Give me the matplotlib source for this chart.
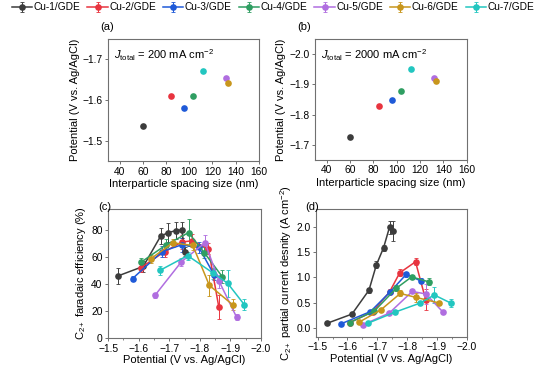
import matplotlib
matplotlib.use('Agg')
import matplotlib.pyplot as plt
from matplotlib.ticker import MultipleLocator

plt.rcParams['font.family'] = ['Liberation Sans', 'DejaVu Sans']
plt.rcParams['mathtext.fontset'] = 'custom'
plt.rcParams['mathtext.rm'] = 'Liberation Sans'
plt.rcParams['mathtext.it'] = 'Liberation Sans:italic'

labels = ['Cu-1/GDE', 'Cu-2/GDE', 'Cu-3/GDE', 'Cu-4/GDE', 'Cu-5/GDE', 'Cu-6/GDE', 'Cu-7/GDE']
colors = ['#3c3c3c', '#e8343f', '#1f5ad8', '#2f9e62', '#b06ee0', '#c8961c', '#22c6c0']

# interparticle spacing (nm) and potential at 200 / 2000 mA cm-2
spacing = [60, 84.5, 95.7, 103.4, 132, 133.7, 112]
E_200 = [-1.536, -1.609, -1.581, -1.609, -1.654, -1.642, -1.672]
E_2000 = [-1.727, -1.830, -1.849, -1.877, -1.923, -1.913, -1.950]

# potential, FE (%), FE err, partial current (A cm-2), err
cu1_E = [-1.533, -1.615, -1.672, -1.697, -1.721, -1.741, -1.751]
cu1_fe = [46, 53, 75.5, 78, 79.5, 80, 64]
cu1_fe_err = [6, 4, 6, 7, 6, 6, 3]
cu1_j = [0.09, 0.27, 0.745, 1.25, 1.59, 2.0, 1.92]
cu1_j_err = [0.02, 0.03, 0.05, 0.07, 0.06, 0.13, 0.2]

cu2_E = [-1.607, -1.685, -1.741, -1.775, -1.828, -1.862]
cu2_fe = [52, 64, 71, 72, 66, 23]
cu2_fe_err = [3, 4, 5, 5, 4, 9]
cu2_j = [0.10, 0.32, 0.71, 1.09, 1.31, 0.56]
cu2_j_err = [0.01, 0.02, 0.05, 0.07, 0.07, 0.2]

cu3_E = [-1.580, -1.677, -1.741, -1.797, -1.846]
cu3_fe = [44, 64, 69, 67, 47]
cu3_fe_err = [2, 4, 5, 4, 4]
cu3_j = [0.08, 0.32, 0.70, 1.06, 0.93]
cu3_j_err = [0.01, 0.02, 0.04, 0.05, 0.05]

cu4_E = [-1.607, -1.690, -1.763, -1.815, -1.873]
cu4_fe = [56, 69, 78, 63, 45.5]
cu4_fe_err = [3, 4, 10, 4, 5]
cu4_j = [0.10, 0.33, 0.78, 1.01, 0.91]
cu4_j_err = [0.01, 0.02, 0.06, 0.04, 0.07]

cu5_E = [-1.653, -1.740, -1.817, -1.863, -1.920]
cu5_fe = [31.5, 56.5, 70.5, 42, 15.5]
cu5_fe_err = [2, 3, 6, 5, 2]
cu5_j = [0.06, 0.29, 0.72, 0.67, 0.31]
cu5_j_err = [0.01, 0.02, 0.04, 0.2, 0.02]

cu6_E = [-1.639, -1.711, -1.777, -1.831, -1.908]
cu6_fe = [58.5, 70.5, 68.5, 39, 24.5]
cu6_fe_err = [3, 3, 3, 8, 4]
cu6_j = [0.11, 0.35, 0.68, 0.60, 0.49]
cu6_j_err = [0.01, 0.02, 0.06, 0.08, 0.04]

cu7_E = [-1.669, -1.760, -1.844, -1.891, -1.946]
cu7_fe = [50, 61, 48, 40.5, 24.5]
cu7_fe_err = [3, 3, 4, 10, 4]
cu7_j = [0.09, 0.31, 0.49, 0.65, 0.49]
cu7_j_err = [0.01, 0.02, 0.03, 0.15, 0.08]

series = [
    (cu1_E, cu1_fe, cu1_fe_err, cu1_j, cu1_j_err),
    (cu2_E, cu2_fe, cu2_fe_err, cu2_j, cu2_j_err),
    (cu3_E, cu3_fe, cu3_fe_err, cu3_j, cu3_j_err),
    (cu4_E, cu4_fe, cu4_fe_err, cu4_j, cu4_j_err),
    (cu5_E, cu5_fe, cu5_fe_err, cu5_j, cu5_j_err),
    (cu6_E, cu6_fe, cu6_fe_err, cu6_j, cu6_j_err),
    (cu7_E, cu7_fe, cu7_fe_err, cu7_j, cu7_j_err),
]

fs_tick = 7.4
fs_lab = 8.0
spine_col = '#707070'


def style_ax(ax):
    for s in ax.spines.values():
        s.set_color(spine_col)
        s.set_linewidth(0.8)
    ax.tick_params(labelsize=fs_tick, length=2.5, width=0.7, color=spine_col, direction='out', pad=1.5)
    ax.tick_params(which='minor', length=1.5, width=0.6, color=spine_col)


fig = plt.figure(figsize=(5.46, 3.66), dpi=100)
ax_a = fig.add_axes([0.198, 0.560, 0.276, 0.333])
ax_b = fig.add_axes([0.577, 0.563, 0.278, 0.330])
ax_c = fig.add_axes([0.198, 0.0765, 0.280, 0.3525])
ax_d = fig.add_axes([0.579, 0.080, 0.276, 0.349])

for ax, E, jt, ylim, yticks in [(ax_a, E_200, '200', (-1.45, -1.75), [-1.5, -1.6, -1.7]),
                                (ax_b, E_2000, '2000', (-1.65, -2.05), [-1.7, -1.8, -1.9, -2.0])]:
    for i in range(len(labels)):
        ax.plot(spacing[i], E[i], 'o', color=colors[i], ms=4.8, mec='none')
    ax.set_xlim(30, 160)
    ax.set_xticks([40, 60, 80, 100, 120, 140, 160])
    ax.set_ylim(*ylim)
    ax.set_yticks(yticks)
    ax.set_xlabel('Interparticle spacing size (nm)', fontsize=fs_lab, labelpad=2)
    ax.set_ylabel('Potential (V vs. Ag/AgCl)', fontsize=fs_lab, labelpad=2)
    ax.text(0.04, 0.93, r'$J_{\rm total}$ = ' + jt + r' mA cm$^{-2}$', transform=ax.transAxes,
            fontsize=fs_lab, va='top', ha='left')
    style_ax(ax)

handles = []
for i in range(len(labels)):
    E, fe, fe_err, j, j_err = series[i]
    h = ax_c.errorbar(E, fe, yerr=fe_err, color=colors[i], marker='o', ms=4.8, mec='none',
                      lw=1.1, elinewidth=0.7, capsize=1.5, capthick=0.6)
    ax_d.errorbar(E, j, yerr=j_err, color=colors[i], marker='o', ms=4.8, mec='none',
                  lw=1.1, elinewidth=0.7, capsize=1.5, capthick=0.6)
    handles.append(h)

ax_c.set_xlim(-1.5, -2.0)
ax_c.set_ylim(0, 95.5)
ax_c.set_yticks([0, 20, 40, 60, 80])
ax_c.set_ylabel(r'C$_{2+}$ faradaic efficiency (%)', fontsize=fs_lab, labelpad=2)
ax_d.set_xlim(-1.495, -2.0)
ax_d.set_ylim(-0.18, 2.36)
ax_d.set_yticks([0.0, 0.5, 1.0, 1.5, 2.0])
ax_d.set_ylabel(r'C$_{2+}$ partial current desnity (A cm$^{-2}$)', fontsize=fs_lab, labelpad=2)
for ax in [ax_c, ax_d]:
    ax.set_xticks([-1.5, -1.6, -1.7, -1.8, -1.9, -2.0])
    ax.xaxis.set_minor_locator(MultipleLocator(0.05))
    ax.set_xlabel('Potential (V vs. Ag/AgCl)', fontsize=fs_lab, labelpad=1)
    style_ax(ax)

fig.text(100 / 546, 1 - 27 / 366, '(a)', fontsize=fs_lab, ha='left', va='center')
fig.text(297 / 546, 1 - 27 / 366, '(b)', fontsize=fs_lab, ha='left', va='center')
fig.text(98 / 546, 1 - 207 / 366, '(c)', fontsize=fs_lab, ha='left', va='center')
fig.text(305 / 546, 1 - 207 / 366, '(d)', fontsize=fs_lab, ha='left', va='center')

fig.legend(handles, labels, loc='upper center', bbox_to_anchor=(0.5, 1.01), ncol=7, frameon=False,
           fontsize=7.3, handlelength=2.0, handletextpad=0.15, columnspacing=0.7, borderaxespad=0.2)

fig.savefig('out.png', dpi=100)
